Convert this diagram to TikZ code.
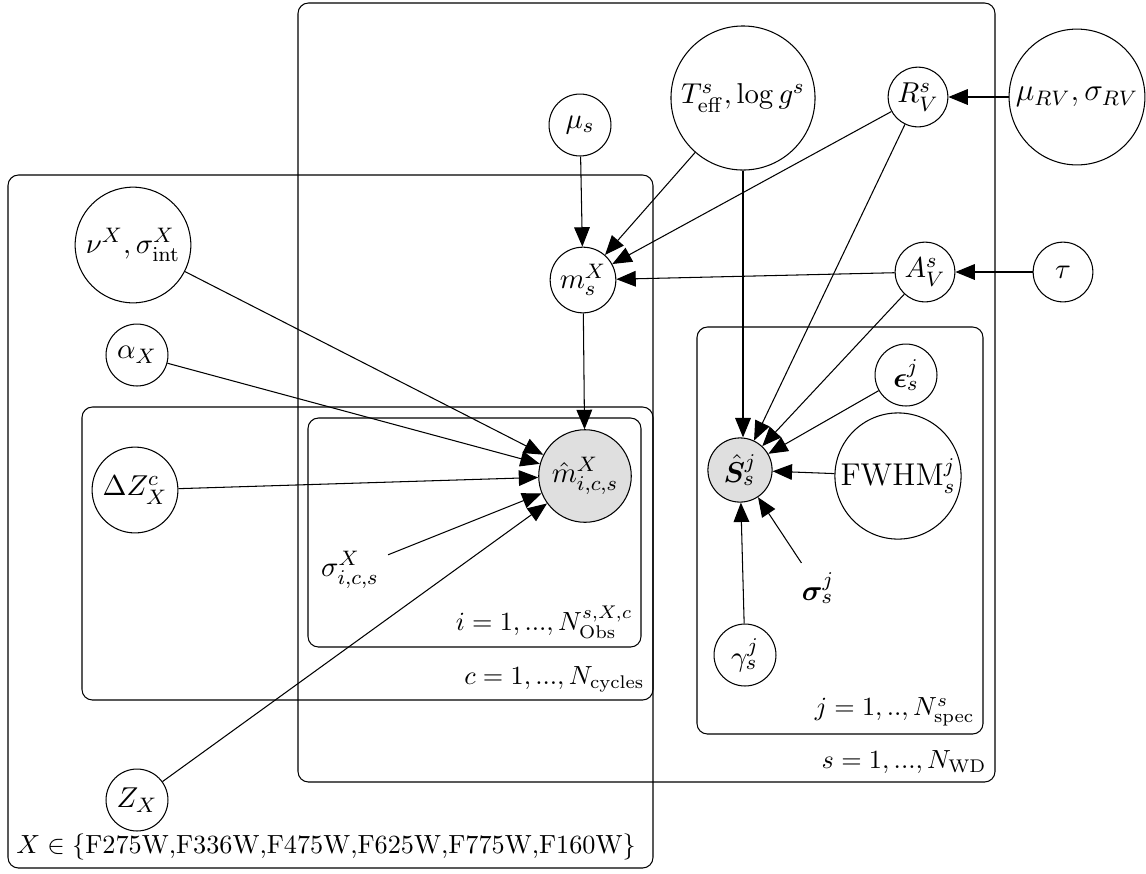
\documentclass[tikz,border=0pt]{standalone}
\usepackage{amsmath}
\usepackage{bm}
\usetikzlibrary{arrows.meta}

\begin{document}
\begin{tikzpicture}[x=0.0134cm, y=-0.0134cm,
  font=\fontsize{11}{13}\selectfont,
  latent/.style={circle, draw, fill=white, inner sep=0.5pt, minimum size=0.80cm},
  obs/.style={latent, fill=gray!25},
  bigtext/.style={font=\fontsize{12}{14}\selectfont},
  plate/.style={rounded corners=4pt},
  platelabel/.style={anchor=south east, inner sep=3pt, font=\normalsize},
  edge/.style={-{Triangle[length=0.26cm, width=0.21cm]}}]

\useasboundingbox (0,0) rectangle (1146,873);

% plates
\draw[plate] (298, 3) rectangle (995, 782) node[platelabel] {$s = 1, ..., N_{\mathrm{WD}}$};
\draw[plate] (8, 175) rectangle (653, 868);
\node at (8, 868) [anchor=south west, inner sep=3pt, font=\normalsize] {$X \in \{$F275W,F336W,F475W,F625W,F775W,F160W$\}$};
\draw[plate] (82, 407) rectangle (653, 700) node[platelabel] {$c = 1, ..., N_{\mathrm{cycles}}$};
\draw[plate] (308, 418) rectangle (641, 647) node[platelabel] {$i = 1, ..., N_{\mathrm{Obs}}^{s,X,c}$};
\draw[plate] (697, 327) rectangle (983, 734) node[platelabel] {$j = 1, .., N_{\mathrm{spec}}^{s}$};

% star level
\node (mus) at (580, 125) [latent, minimum size=0.83cm] {$\mu_s$};
\node (teff) at (743, 98) [latent, minimum size=1.93cm] {$T_{\mathrm{eff}}^s, \log g^s$};
\node (rv) at (918, 97) [latent] {$R_V^s$};
\node (murv) at (1077, 97) [latent, bigtext, minimum size=1.82cm] {$\mu_{RV}, \sigma_{RV}$};
\node (ms) at (583, 280) [latent, minimum size=0.88cm] {$m_s^X$};
\node (av) at (925, 272) [latent] {$A_V^s$};
\node (tau) at (1063, 272) [latent] {$\tau$};

% filter level
\node (nu) at (133, 245) [latent, minimum size=1.55cm] {$\nu^X, \sigma_{\mathrm{int}}^X$};
\node (alpha) at (137, 355) [latent, minimum size=0.83cm] {$\alpha_X$};
\node (dz) at (135, 490) [latent, minimum size=1.15cm] {$\Delta Z_X^c$};
\node (zx) at (137, 800) [latent, minimum size=0.83cm] {$Z_X$};
\node (mhat) at (585, 476) [obs, minimum size=1.24cm] {$\hat{m}_{i,c,s}^X$};
\node (sigics) at (350, 570) {$\sigma_{i,c,s}^X$};

% spectra
\node (shat) at (740, 470) [obs, minimum size=0.86cm] {$\hat{\bm{S}}_s^j$};
\node (eps) at (906, 375) [latent, minimum size=0.83cm] {$\bm{\epsilon}_s^j$};
\node (fwhm) at (898, 476) [latent, bigtext, minimum size=1.69cm] {$\mathrm{FWHM}_s^j$};
\node (sigj) at (818, 588) {$\bm{\sigma}_s^j$};
\node (gam) at (745, 655) [latent, minimum size=0.83cm] {$\gamma_s^j$};

\draw[edge] (mus) -- (ms);
\draw[edge] (teff) -- (ms);
\draw[edge] (rv) -- (ms);
\draw[edge] (av) -- (ms);
\draw[edge] (tau) -- (av);
\draw[edge] (murv) -- (rv);

\draw[edge] (teff.south) -- (teff.south |- shat.north);
\draw[edge] (rv) -- (shat);
\draw[edge] (av) -- (shat);
\draw[edge] (eps) -- (shat);
\draw[edge] (fwhm) -- (shat);
\draw[edge] (sigj) -- (shat);
\draw[edge] (gam) -- (shat);

\draw[edge] (ms) -- (mhat);
\draw[edge] (nu) -- (mhat);
\draw[edge] (alpha) -- (mhat);
\draw[edge] (dz) -- (mhat);
\draw[edge] (sigics) -- (mhat);
\draw[edge] (zx) -- (mhat);

\end{tikzpicture}
\end{document}
